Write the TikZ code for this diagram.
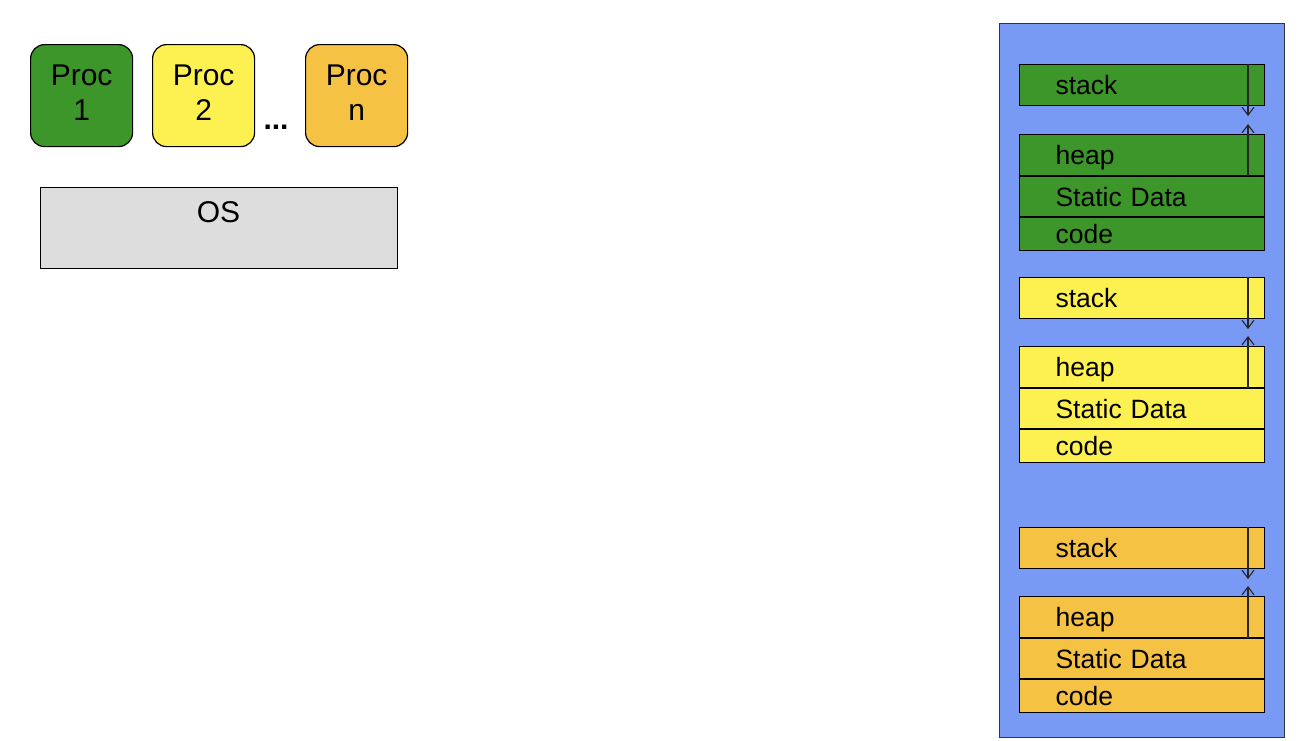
\documentclass[tikz,border=0pt]{standalone}
\usepackage{fontspec}
\setmainfont{Liberation Sans}
\usetikzlibrary{arrows.meta,calc}
\definecolor{pgreen}{RGB}{61,150,41}
\definecolor{pyellow}{RGB}{253,241,81}
\definecolor{porange}{RGB}{246,194,67}
\definecolor{memblue}{RGB}{120,154,245}
\definecolor{osgray}{RGB}{221,221,221}
\newcommand{\lowstrut}{\rule[-6pt]{0pt}{6pt}}
\begin{document}
\begin{tikzpicture}[x=1pt,y=-1pt,
  proc/.style={draw=black, line width=1.2pt, rounded corners=14pt, minimum width=102pt, minimum height=102pt, align=center, font=\fontsize{30}{35}\selectfont, anchor=north west, inner sep=0pt},
  seg/.style={draw=black, line width=1.1pt, anchor=north west, minimum width=245pt, text width=173pt, inner xsep=36pt, inner ysep=0pt, text height=22pt, text depth=3pt, align=left, font=\fontsize{26.5}{30}\selectfont},
  growarrow/.style={draw=black!85, line width=1.1pt, -{Straight Barb[length=8pt,width=12pt,line width=1.1pt]}},
  lbl/.style={font=\fontsize{30}{35}\selectfont, inner sep=0pt}]
\useasboundingbox (0,0) rectangle (1308,740);
% processes
\node[proc, fill=pgreen] (p1) at (30,44) {Proc\\1\lowstrut};
\node[proc, fill=pyellow] (p2) at (152,44) {Proc\\2\lowstrut};
\node[lbl, font=\fontsize{30}{35}\selectfont\bfseries] (dots) at (276,127) {...};
\node[proc, fill=porange] (pn) at (305,44) {Proc\\n\lowstrut};
% OS
\node[draw=black, line width=1.2pt, fill=osgray, anchor=north west, minimum width=357pt, minimum height=81pt, inner sep=0pt] (os) at (40,187) {};
\node[lbl] (oslbl) at (218.5,212) {OS};
% memory
\node[draw=black!80, line width=1pt, fill=memblue, anchor=north west, minimum width=285pt, minimum height=714pt, inner sep=0pt] (mem) at (999,23) {};
\foreach \c/\ys/\yh/\n in {pgreen/64/134/a, pyellow/277/346/b, porange/527/596/c} {
  \node[seg, fill=\c, minimum height=41pt] (stack\n) at (1019,\ys) {stack};
  \node[seg, fill=\c, minimum height=41pt] (heap\n) at (1019,\yh) {heap};
  \node[seg, fill=\c, minimum height=40pt] (static\n) at (heap\n.south west) {Static Data};
  \node[seg, fill=\c, minimum height=33pt] (code\n) at (static\n.south west) {code};
  \coordinate (sTip\n) at ($(stack\n.south west)+(229,10)$);
  \coordinate (hTip\n) at ($(heap\n.north west)+(229,-10)$);
  \draw[growarrow] (stack\n.north -| sTip\n) -- (sTip\n);
  \draw[growarrow] (heap\n.south -| hTip\n) -- (hTip\n);
}
\end{tikzpicture}
\end{document}
